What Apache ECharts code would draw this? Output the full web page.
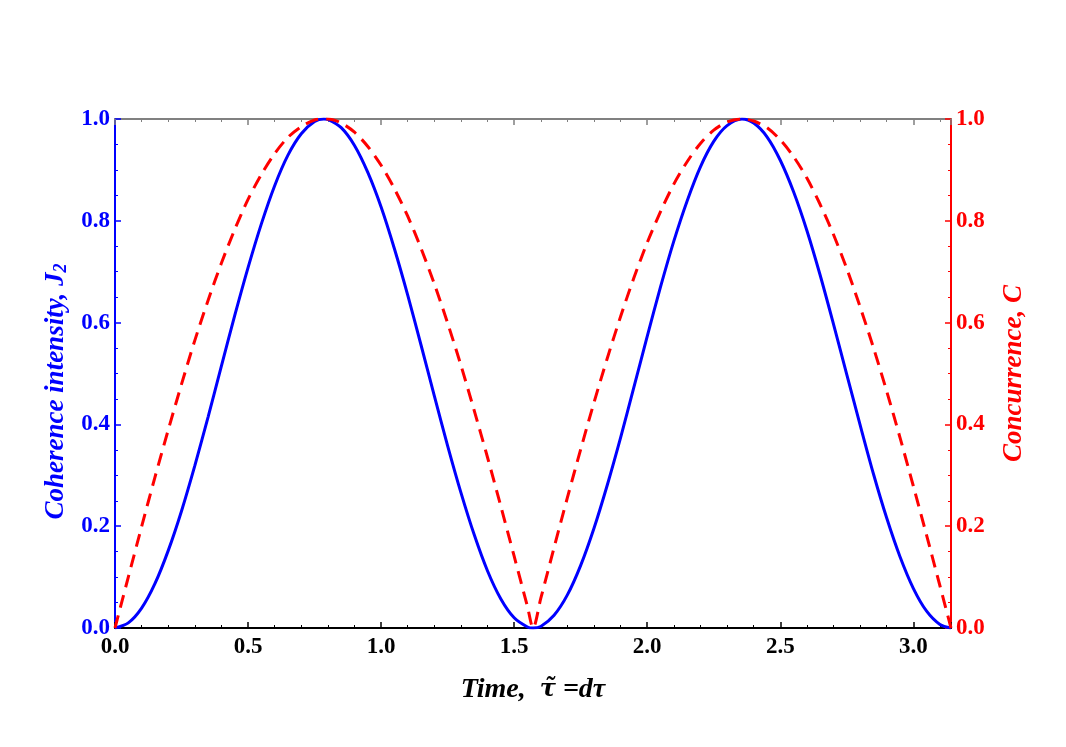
<!DOCTYPE html>
<html>
<head>
<meta charset="utf-8">
<script src="https://cdn.jsdelivr.net/npm/echarts@6/dist/echarts.min.js"></script>
<style>
  html, body { margin: 0; padding: 0; background: #fff; }
  #chart { width: 1066px; height: 747px; }
</style>
</head>
<body>
<div id="chart"></div>
<script>
// time values
var times = [0, 0.05, 0.10, 0.15, 0.20, 0.25, 0.30, 0.35, 0.40, 0.45, 0.50, 0.55, 0.60, 0.65, 0.70, 0.75, 0.785,
  0.80, 0.85, 0.90, 0.95, 1.00, 1.05, 1.10, 1.15, 1.20, 1.25, 1.30, 1.35, 1.40, 1.45, 1.50, 1.55, 1.571,
  1.60, 1.65, 1.70, 1.75, 1.80, 1.85, 1.90, 1.95, 2.00, 2.05, 2.10, 2.15, 2.20, 2.25, 2.30, 2.356,
  2.40, 2.45, 2.50, 2.55, 2.60, 2.65, 2.70, 2.75, 2.80, 2.85, 2.90, 2.95, 3.00, 3.05, 3.10, 3.1416];

// coherence intensity J2 (blue, solid)
var coherence = [0, 0.010, 0.039, 0.087, 0.152, 0.230, 0.319, 0.415, 0.515, 0.614, 0.708, 0.794, 0.869, 0.929, 0.971, 0.995, 1.0,
  0.999, 0.983, 0.948, 0.895, 0.827, 0.745, 0.654, 0.556, 0.456, 0.358, 0.266, 0.183, 0.112, 0.057, 0.020, 0.002, 0,
  0.003, 0.025, 0.065, 0.123, 0.196, 0.281, 0.374, 0.473, 0.573, 0.670, 0.760, 0.839, 0.906, 0.956, 0.987, 1.0,
  0.992, 0.965, 0.919, 0.857, 0.781, 0.693, 0.597, 0.498, 0.399, 0.303, 0.216, 0.140, 0.078, 0.033, 0.007, 0];

// concurrence C (red, dashed)
var concurrence = [0, 0.100, 0.199, 0.296, 0.389, 0.479, 0.565, 0.644, 0.717, 0.783, 0.842, 0.891, 0.932, 0.964, 0.985, 0.998, 1.0,
  1.000, 0.992, 0.974, 0.946, 0.909, 0.863, 0.809, 0.746, 0.676, 0.599, 0.516, 0.427, 0.335, 0.239, 0.141, 0.042, 0,
  0.058, 0.158, 0.256, 0.351, 0.443, 0.530, 0.612, 0.688, 0.757, 0.818, 0.872, 0.916, 0.952, 0.978, 0.994, 1.0,
  0.996, 0.983, 0.959, 0.926, 0.884, 0.832, 0.773, 0.706, 0.631, 0.551, 0.465, 0.374, 0.279, 0.182, 0.083, 0];

var tMax = 3.1416;

function pairs(xs, ys) {
  return xs.map(function (x, i) { return [x, ys[i]]; });
}

var chart = echarts.init(document.getElementById('chart'));

var serif = '"Liberation Serif", "Times New Roman", serif';
var tickFmt = function (v) { return v.toFixed(1); };

var option = {
  backgroundColor: '#fff',
  animation: false,
  grid: { left: 115, right: 115, top: 119, bottom: 119 },
  xAxis: [{
    type: 'value',
    position: 'bottom',
    min: 0,
    max: tMax,
    interval: 0.5,
    name: '{a|Time,  }{t|τ̃}{a| =dτ}',
    nameLocation: 'middle',
    nameGap: 48,
    nameTextStyle: {
      rich: {
        a: { fontFamily: serif, fontSize: 28, fontWeight: 'bold', fontStyle: 'italic', color: '#000' },
        t: { fontFamily: '"DejaVu Serif", serif', fontSize: 24, fontWeight: 'bold', fontStyle: 'italic', color: '#000' }
      }
    },
    axisLine: { onZero: false, lineStyle: { color: '#000', width: 2 } },
    axisTick: { inside: true, length: 6, lineStyle: { color: '#000', width: 1.5 } },
    minorTick: { show: true, splitNumber: 5, length: 3, lineStyle: { color: '#000', width: 1 } },
    axisLabel: { formatter: tickFmt, showMaxLabel: false, fontFamily: serif, fontSize: 23, fontWeight: 'bold', color: '#000', margin: 8 },
    splitLine: { show: false }
  }, {
    type: 'value',
    position: 'top',
    min: 0,
    max: tMax,
    interval: 0.5,
    axisLine: { onZero: false, lineStyle: { color: '#808080', width: 2 } },
    axisTick: { inside: true, length: 6, lineStyle: { color: '#808080', width: 1.5 } },
    minorTick: { show: true, splitNumber: 5, length: 3, lineStyle: { color: '#808080', width: 1 } },
    axisLabel: { show: false },
    splitLine: { show: false }
  }],
  yAxis: [{
    type: 'value',
    position: 'left',
    min: 0,
    max: 1,
    interval: 0.2,
    name: '{a|Coherence intensity, J}{s|2}',
    nameLocation: 'middle',
    nameRotate: 90,
    nameGap: 44,
    nameTextStyle: {
      rich: {
        a: { fontFamily: serif, fontSize: 27, fontWeight: 'bold', fontStyle: 'italic', color: '#0000ff' },
        s: { fontFamily: serif, fontSize: 18, fontWeight: 'bold', fontStyle: 'italic', color: '#0000ff', padding: [10, 36, 0, 0] }
      }
    },
    axisLine: { onZero: false, lineStyle: { color: '#0000ff', width: 2 } },
    axisTick: { inside: true, length: 6, lineStyle: { color: '#0000ff', width: 1.5 } },
    minorTick: { show: true, splitNumber: 4, length: 3, lineStyle: { color: '#0000ff', width: 1 } },
    axisLabel: { formatter: tickFmt, fontFamily: serif, fontSize: 23, fontWeight: 'bold', color: '#0000ff', margin: 5 },
    splitLine: { show: false }
  }, {
    type: 'value',
    position: 'right',
    min: 0,
    max: 1,
    interval: 0.2,
    name: 'Concurrence, C',
    nameLocation: 'middle',
    nameRotate: 90,
    nameGap: 50,
    nameTextStyle: { fontFamily: serif, fontSize: 27, fontWeight: 'bold', fontStyle: 'italic', color: '#ff0000' },
    axisLine: { onZero: false, lineStyle: { color: '#ff0000', width: 2 } },
    axisTick: { inside: true, length: 6, lineStyle: { color: '#ff0000', width: 1.5 } },
    minorTick: { show: true, splitNumber: 4, length: 3, lineStyle: { color: '#ff0000', width: 1 } },
    axisLabel: { formatter: tickFmt, fontFamily: serif, fontSize: 23, fontWeight: 'bold', color: '#ff0000', margin: 5 },
    splitLine: { show: false }
  }],
  series: [{
    name: 'J2',
    type: 'line',
    xAxisIndex: 0,
    yAxisIndex: 0,
    data: pairs(times, coherence),
    smooth: 0.3,
    showSymbol: false,
    lineStyle: { color: '#0000ff', width: 3 },
    z: 3
  }, {
    name: 'C',
    type: 'line',
    xAxisIndex: 0,
    yAxisIndex: 1,
    data: pairs(times, concurrence),
    smooth: 0.3,
    showSymbol: false,
    lineStyle: { color: '#ff0000', width: 3, type: [13, 8] },
    z: 4
  }]
};

chart.setOption(option);
</script>
</body>
</html>
